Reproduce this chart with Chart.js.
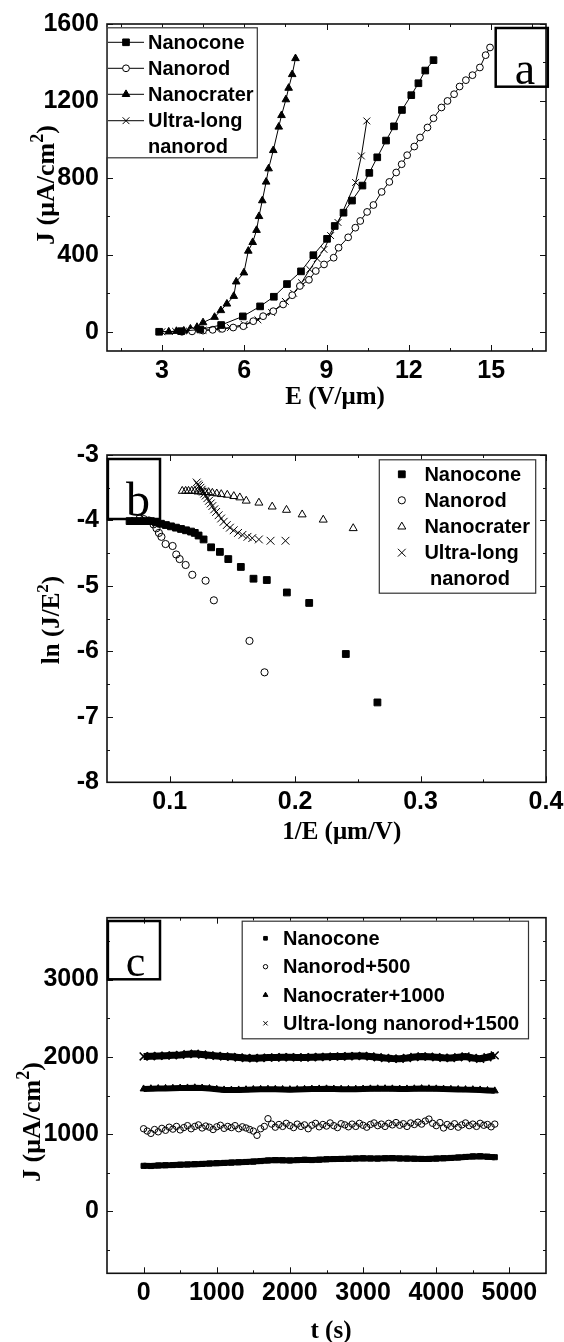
<!DOCTYPE html>
<html>
<head>
<meta charset="utf-8">
<script src="https://cdn.jsdelivr.net/npm/chart.js@4.4.1/dist/chart.umd.min.js"></script>
<style>
html,body{margin:0;padding:0;background:#fff;}
body{width:564px;height:1342px;position:relative;overflow:hidden;}
.panel{position:absolute;left:0;width:564px;}
canvas{display:block;}
</style>
</head>
<body>
<div class="panel" style="top:0;height:415px"><canvas id="ca" width="564" height="415"></canvas></div>
<div class="panel" style="top:415px;height:430px"><canvas id="cb" width="564" height="430"></canvas></div>
<div class="panel" style="top:845px;height:497px"><canvas id="cc" width="564" height="497"></canvas></div>
<script>
// ---------- Panel a : J vs E ----------
const aConeE   = [2.9, 3.7, 4.4, 5.16, 5.95, 6.58, 7.08, 7.56, 8.07, 8.52, 9.02, 9.30, 9.62, 9.93, 10.31, 10.56, 10.85, 11.17, 11.46, 11.75, 12.09, 12.35, 12.60, 12.90];
const aConeJ   = [0, 3, 12, 35, 80, 132, 182, 248, 314, 398, 483, 550, 619, 682, 760, 826, 907, 994, 1068, 1153, 1230, 1292, 1358, 1412];
const aRodE    = [3.73, 4.1, 4.5, 4.85, 5.2, 5.6, 5.97, 6.33, 6.69, 7.06, 7.42, 7.75, 8.03, 8.36, 8.61, 8.91, 9.26, 9.44, 9.79, 10.05, 10.23, 10.48, 10.71, 11.01, 11.29, 11.54, 11.74, 11.94, 12.2, 12.41, 12.68, 12.9, 13.19, 13.41, 13.65, 13.85, 14.08, 14.32, 14.59, 14.8, 14.96];
const aRodJ    = [0, 2, 6, 10, 15, 22, 29, 55, 81, 107, 142, 190, 238, 270, 316, 350, 385, 437, 491, 541, 576, 623, 659, 727, 779, 828, 871, 918, 963, 1010, 1062, 1110, 1166, 1200, 1235, 1275, 1308, 1334, 1374, 1438, 1478];
const aCraterE = [3.25, 3.53, 3.8, 4.04, 4.28, 4.5, 4.92, 5.15, 5.37, 5.62, 5.71, 5.99, 6.15, 6.31, 6.45, 6.54, 6.66, 6.8, 6.89, 7.06, 7.26, 7.36, 7.52, 7.62, 7.75, 7.87];
const aCraterJ = [0, 3, 5, 15, 24, 48, 76, 111, 145, 185, 260, 307, 420, 465, 528, 600, 682, 779, 848, 943, 1065, 1125, 1207, 1267, 1338, 1421];
const aUltraE  = [3.0, 3.5, 4.0, 4.5, 5.0, 5.5, 6.0, 6.5, 7.0, 7.5, 7.8, 8.09, 8.39, 8.66, 8.91, 9.15, 9.42, 10.06, 10.27, 10.47];
const aUltraJ  = [0, 2, 4, 8, 13, 22, 38, 62, 100, 158, 200, 255, 324, 380, 428, 500, 568, 776, 914, 1096];
const aXTicks = [3, 6, 9, 12, 15];
const aXLabels = ['3', '6', '9', '12', '15'];
const aXMinor = [1.5, 4.5, 7.5, 10.5, 13.5, 16.5];
const aYTicks = [0, 400, 800, 1200, 1600];
const aYLabels = ['0', '400', '800', '1200', '1600'];
const aYMinor = [200, 600, 1000, 1400];

// ---------- Panel b : ln(J/E^2) vs 1/E ----------
const bConeX   = [0.068, 0.072, 0.077, 0.081, 0.085, 0.089, 0.093, 0.097, 0.101, 0.105, 0.109, 0.113, 0.117, 0.120, 0.123, 0.127, 0.133, 0.140, 0.1467, 0.1567, 0.1668, 0.1774, 0.1934, 0.2112, 0.2404, 0.2656];
const bConeY   = [-4.01, -4.01, -4.01, -4.01, -4.01, -4.03, -4.05, -4.07, -4.09, -4.11, -4.13, -4.15, -4.17, -4.19, -4.23, -4.29, -4.41, -4.48, -4.59, -4.71, -4.89, -4.91, -5.10, -5.26, -6.04, -6.78];
const bRodX    = [0.076, 0.0794, 0.0834, 0.0871, 0.0894, 0.0914, 0.0934, 0.0967, 0.1023, 0.1052, 0.1079, 0.1127, 0.118, 0.1286, 0.1352, 0.1636, 0.1756];
const bRodY    = [-3.97, -3.98, -4.00, -4.06, -4.12, -4.19, -4.25, -4.36, -4.39, -4.52, -4.59, -4.68, -4.83, -4.92, -5.22, -5.84, -6.32];
const bCraterX = [0.110, 0.1127, 0.115, 0.1175, 0.120, 0.1225, 0.125, 0.128, 0.131, 0.134, 0.1375, 0.1411, 0.1459, 0.1511, 0.1559, 0.161, 0.1711, 0.1817, 0.1931, 0.2056, 0.2224, 0.2463];
const bCraterY = [-3.55, -3.55, -3.55, -3.55, -3.55, -3.56, -3.56, -3.57, -3.57, -3.58, -3.59, -3.60, -3.61, -3.63, -3.65, -3.70, -3.73, -3.79, -3.84, -3.91, -3.99, -4.12];
const bUltraX  = [0.1215, 0.1225, 0.1235, 0.1245, 0.1255, 0.1265, 0.1275, 0.1287, 0.130, 0.1313, 0.1327, 0.134, 0.1355, 0.137, 0.139, 0.141, 0.143, 0.1455, 0.148, 0.151, 0.1545, 0.158, 0.162, 0.1658, 0.1711, 0.1804, 0.1923];
const bUltraY  = [-3.42, -3.45, -3.47, -3.50, -3.53, -3.56, -3.59, -3.62, -3.66, -3.70, -3.74, -3.78, -3.83, -3.87, -3.92, -3.97, -4.02, -4.07, -4.11, -4.15, -4.19, -4.22, -4.25, -4.27, -4.29, -4.31, -4.31];
const bXTicks = [0.1, 0.2, 0.3, 0.4];
const bXLabels = ['0.1', '0.2', '0.3', '0.4'];
const bXMinor = [0.15, 0.25, 0.35];
const bYTicks = [-3, -4, -5, -6, -7, -8];
const bYLabels = ['-3', '-4', '-5', '-6', '-7', '-8'];
const bYMinor = [-3.5, -4.5, -5.5, -6.5, -7.5];

// ---------- Panel c : J vs t (stability) ----------
const cTime = [0, 100, 200, 300, 400, 500, 600, 700, 800, 900, 1000, 1100, 1200, 1300, 1400, 1500, 1600, 1700, 1800, 1900, 2000, 2100, 2200, 2300, 2400, 2500, 2600, 2700, 2800, 2900, 3000, 3100, 3200, 3300, 3400, 3500, 3600, 3700, 3800, 3900, 4000, 4100, 4200, 4300, 4400, 4500, 4600, 4700, 4800];
const cTimeFine = [0, 50, 100, 150, 200, 250, 300, 350, 400, 450, 500, 550, 600, 650, 700, 750, 800, 850, 900, 950, 1000, 1050, 1100, 1150, 1200, 1250, 1300, 1350, 1400, 1450, 1500, 1550, 1600, 1650, 1700, 1750, 1800, 1850, 1900, 1950, 2000, 2050, 2100, 2150, 2200, 2250, 2300, 2350, 2400, 2450, 2500, 2550, 2600, 2650, 2700, 2750, 2800, 2850, 2900, 2950, 3000, 3050, 3100, 3150, 3200, 3250, 3300, 3350, 3400, 3450, 3500, 3550, 3600, 3650, 3700, 3750, 3800, 3850, 3900, 3950, 4000, 4050, 4100, 4150, 4200, 4250, 4300, 4350, 4400, 4450, 4500, 4550, 4600, 4650, 4700, 4750, 4800];
const cConeJ = [590, 588, 595, 598, 600, 605, 608, 612, 615, 620, 625, 628, 632, 636, 640, 645, 652, 660, 665, 662, 660, 664, 668, 665, 670, 675, 678, 680, 682, 685, 688, 686, 684, 688, 690, 686, 684, 682, 680, 680, 684, 688, 692, 698, 705, 712, 715, 708, 702];
const cRodJ = [1070, 1040, 1010, 1060, 1030, 1075, 1050, 1090, 1065, 1100,
               1055, 1085, 1110, 1070, 1100, 1120, 1080, 1105, 1090, 1060,
               1095, 1115, 1075, 1100, 1085, 1110, 1070, 1095, 1080, 1060,
               1040, 985, 1070, 1100, 1200, 1130, 1090, 1125, 1100, 1140,
               1110, 1085, 1130, 1100, 1120, 1070, 1115, 1140, 1095, 1125,
               1105, 1145, 1110, 1085, 1135, 1120, 1095, 1130, 1100, 1140,
               1115, 1090, 1125, 1145, 1110, 1130, 1100, 1140, 1120, 1150,
               1115, 1135, 1100, 1145, 1125, 1155, 1130, 1170, 1195, 1140,
               1110, 1150, 1080, 1125, 1100, 1135, 1090, 1120, 1145, 1110,
               1130, 1100, 1140, 1115, 1125, 1095, 1130];
const cCraterJ = [1585, 1588, 1590, 1592, 1594, 1596, 1598, 1600, 1597, 1590,
                  1580, 1572, 1570, 1572, 1575, 1578, 1580, 1582, 1580, 1578,
                  1576, 1578, 1580, 1583, 1585, 1586, 1584, 1582, 1580, 1582,
                  1584, 1586, 1587, 1588, 1586, 1584, 1585, 1587, 1589, 1588,
                  1586, 1583, 1580, 1578, 1576, 1575, 1572, 1565, 1560];
const cUltraJ = [2005, 2008, 2012, 2015, 2020, 2025, 2035, 2040, 2030, 2020,
                 2012, 2005, 2000, 1992, 1985, 1982, 1985, 1990, 1992, 1995,
                 1995, 1993, 1992, 1995, 1998, 2000, 2003, 2005, 2008, 2010,
                 2012, 2005, 1995, 1985, 1978, 1975, 1985, 1998, 2005, 2002,
                 1995, 1988, 1985, 1995, 2005, 1985, 1975, 1995, 2020];
const cXTicks = [0, 1000, 2000, 3000, 4000, 5000];
const cXLabels = ['0', '1000', '2000', '3000', '4000', '5000'];
const cXMinor = [500, 1500, 2500, 3500, 4500];
const cYTicks = [0, 1000, 2000, 3000];
const cYLabels = ['0', '1000', '2000', '3000'];
const cYMinor = [-500, 500, 1500, 2500, 3500];

// ---------- helpers ----------
const SANS = '"Liberation Sans", Arial, Helvetica, sans-serif';
const SERIF = '"Liberation Serif", "Times New Roman", Times, serif';
const pts = (xs, ys) => xs.map((x, i) => ({x: x, y: ys[i]}));

function makeScale(min, max, ticks, labels, isX, size, pad) {
  return {
    type: 'linear', min: min, max: max,
    position: isX ? 'bottom' : 'left',
    grid: {display: false, drawTicks: false},
    border: {display: false},
    title: {display: false},
    ticks: {
      font: {family: SANS, size: 25, weight: 'bold'},
      color: '#000',
      padding: pad,
      autoSkip: false, maxRotation: 0, minRotation: 0,
      callback: (v, i) => (labels[i] !== undefined ? labels[i] : '')
    },
    afterBuildTicks: (s) => { s.ticks = ticks.map(v => ({value: v})); },
    afterFit: (s) => {
      if (isX) { s.height = size; s.paddingLeft = 0; s.paddingRight = 0; }
      else { s.width = size; s.paddingTop = 0; s.paddingBottom = 0; }
    }
  };
}

const framePlugin = {
  id: 'frame',
  afterDatasetsDraw(chart, args, o) {
    const ctx = chart.ctx, a = chart.chartArea, sx = chart.scales.x, sy = chart.scales.y;
    ctx.save();
    ctx.strokeStyle = '#111';
    ctx.lineWidth = 1;
    ctx.beginPath();
    const mark = (vals, len, isX) => vals.forEach(v => {
      if (isX) {
        const p = Math.round(sx.getPixelForValue(v)) + 0.5;
        ctx.moveTo(p, a.bottom); ctx.lineTo(p, a.bottom - len);
        ctx.moveTo(p, a.top); ctx.lineTo(p, a.top + len);
      } else {
        const p = Math.round(sy.getPixelForValue(v)) + 0.5;
        ctx.moveTo(a.left, p); ctx.lineTo(a.left + len, p);
        ctx.moveTo(a.right, p); ctx.lineTo(a.right - len, p);
      }
    });
    mark(o.xMajor, 6, true); mark(o.xMinor, 3, true);
    mark(o.yMajor, 6, false); mark(o.yMinor, 3, false);
    ctx.stroke();
    ctx.lineWidth = 1.6;
    ctx.strokeStyle = '#111';
    ctx.strokeRect(a.left, a.top, a.right - a.left, a.bottom - a.top);
    ctx.restore();
  }
};

function marker(ctx, m, x, y) {
  ctx.save();
  ctx.fillStyle = m.fill;
  ctx.strokeStyle = '#000';
  ctx.lineWidth = 1;
  Chart.helpers.drawPoint(ctx, {pointStyle: m.style, radius: m.r, borderWidth: 1, rotation: 0}, x, y);
  ctx.restore();
}

// draws a title made of parts, some of which are superscripts, centred at (0,0)
function drawParts(ctx, parts, size) {
  const big = 'bold ' + size + 'px ' + SERIF;
  const small = 'bold ' + Math.round(size * 0.68) + 'px ' + SERIF;
  let total = 0;
  parts.forEach(p => { ctx.font = p.sup ? small : big; p.w = ctx.measureText(p.t).width; total += p.w; });
  let x = -total / 2;
  ctx.textAlign = 'left';
  ctx.textBaseline = 'alphabetic';
  const base = size * 0.34;
  parts.forEach(p => {
    ctx.font = p.sup ? small : big;
    ctx.fillText(p.t, x, p.sup ? base - size * 0.42 : base);
    x += p.w;
  });
}

const overlayPlugin = {
  id: 'overlay',
  afterDraw(chart, args, o) {
    const ctx = chart.ctx, dy = o.offsetY;
    ctx.save();
    // legend
    const L = o.legend;
    ctx.fillStyle = '#fff';
    ctx.fillRect(L.box[0], L.box[1] - dy, L.box[2] - L.box[0], L.box[3] - L.box[1]);
    ctx.strokeStyle = '#333';
    ctx.lineWidth = 1.2;
    ctx.strokeRect(L.box[0] + 0.5, L.box[1] - dy + 0.5, L.box[2] - L.box[0], L.box[3] - L.box[1]);
    L.rows.forEach(r => {
      const y = r.y - dy;
      if (L.line && r.m) {
        ctx.strokeStyle = '#333'; ctx.lineWidth = 1.2;
        ctx.beginPath(); ctx.moveTo(L.line[0], y); ctx.lineTo(L.line[1], y); ctx.stroke();
      }
      if (r.m) marker(ctx, r.m, L.markerX, y);
      ctx.fillStyle = '#000';
      ctx.font = 'bold 20px ' + SANS;
      ctx.textAlign = 'left';
      ctx.textBaseline = 'middle';
      ctx.fillText(r.text, r.tx !== undefined ? r.tx : L.textX, y + 1);
    });
    // panel letter box
    const B = o.tag;
    ctx.strokeStyle = '#000';
    ctx.lineWidth = 2.5;
    ctx.strokeRect(B.box[0], B.box[1] - dy, B.box[2] - B.box[0], B.box[3] - B.box[1]);
    ctx.fillStyle = '#000';
    ctx.font = B.size + 'px ' + SERIF;
    ctx.textAlign = 'center';
    ctx.textBaseline = 'alphabetic';
    ctx.fillText(B.text, B.x, B.y - dy);
    // axis titles
    ctx.save();
    ctx.translate(o.xTitle.x, o.xTitle.y - dy);
    drawParts(ctx, o.xTitle.parts, o.xTitle.size);
    ctx.restore();
    ctx.save();
    ctx.translate(o.yTitle.x, o.yTitle.y - dy);
    ctx.rotate(-Math.PI / 2);
    drawParts(ctx, o.yTitle.parts, o.yTitle.size);
    ctx.restore();
    ctx.restore();
  }
};

function baseOptions(xs, ys, pad, frame, overlay) {
  return {
    responsive: false, animation: false, events: [],
    layout: {padding: pad},
    scales: {x: xs, y: ys},
    plugins: {legend: {display: false}, tooltip: {enabled: false}, frame: frame, overlay: overlay},
    elements: {line: {tension: 0}}
  };
}

const BLACK = '#000', CLEAR = 'rgba(0,0,0,0)';
const J_TITLE = [{t: 'J (\u03bcA/cm'}, {t: '2', sup: true}, {t: ')'}];

// ---------- Chart a ----------
new Chart(document.getElementById('ca'), {
  type: 'scatter',
  data: {datasets: [
    {label: 'Nanocone', data: pts(aConeE, aConeJ), showLine: true, borderColor: BLACK, borderWidth: 1,
     pointStyle: 'rect', pointRadius: 4.7, pointBackgroundColor: BLACK, pointBorderColor: BLACK, pointBorderWidth: 1},
    {label: 'Nanorod', data: pts(aRodE, aRodJ), showLine: true, borderColor: BLACK, borderWidth: 1,
     pointStyle: 'circle', pointRadius: 3.4, pointBackgroundColor: '#fff', pointBorderColor: BLACK, pointBorderWidth: 1},
    {label: 'Nanocrater', data: pts(aCraterE, aCraterJ), showLine: true, borderColor: BLACK, borderWidth: 1,
     pointStyle: 'triangle', pointRadius: 4.4, pointBackgroundColor: BLACK, pointBorderColor: BLACK, pointBorderWidth: 1},
    {label: 'Ultra-long nanorod', data: pts(aUltraE, aUltraJ), showLine: true, borderColor: BLACK, borderWidth: 1,
     pointStyle: 'crossRot', pointRadius: 4.8, pointBackgroundColor: BLACK, pointBorderColor: BLACK, pointBorderWidth: 1}
  ]},
  options: baseOptions(
    makeScale(1, 17, aXTicks, aXLabels, true, 64, 5),
    makeScale(-100, 1600, aYTicks, aYLabels, false, 107, 8),
    {top: 24, right: 18, left: 0, bottom: 0},
    {xMajor: aXTicks, xMinor: aXMinor, yMajor: aYTicks, yMinor: aYMinor},
    {offsetY: 0,
     legend: {box: [106.8, 27.3, 256.8, 157.3], line: [108, 144], markerX: 126, textX: 148,
       rows: [
         {y: 42.3, text: 'Nanocone', m: {style: 'rect', r: 4.7, fill: BLACK}},
         {y: 68.3, text: 'Nanorod', m: {style: 'circle', r: 3.4, fill: '#fff'}},
         {y: 94.3, text: 'Nanocrater', m: {style: 'triangle', r: 4.4, fill: BLACK}},
         {y: 120.7, text: 'Ultra-long', m: {style: 'crossRot', r: 4.8, fill: BLACK}},
         {y: 146.7, text: 'nanorod'}
       ]},
     tag: {box: [495.7, 28, 547.8, 86.7], text: 'a', x: 525, y: 84, size: 46},
     xTitle: {parts: [{t: 'E (V/\u03bcm)'}], size: 25, x: 335, y: 395},
     yTitle: {parts: J_TITLE, size: 26, x: 45, y: 185}}
  ),
  plugins: [framePlugin, overlayPlugin]
});

// ---------- Chart b ----------
new Chart(document.getElementById('cb'), {
  type: 'scatter',
  data: {datasets: [
    {label: 'Nanocone', data: pts(bConeX, bConeY), showLine: false,
     pointStyle: 'rect', pointRadius: 4.8, pointBackgroundColor: BLACK, pointBorderColor: BLACK, pointBorderWidth: 1},
    {label: 'Nanorod', data: pts(bRodX, bRodY), showLine: false,
     pointStyle: 'circle', pointRadius: 3.6, pointBackgroundColor: CLEAR, pointBorderColor: BLACK, pointBorderWidth: 1},
    {label: 'Nanocrater', data: pts(bCraterX, bCraterY), showLine: false,
     pointStyle: 'triangle', pointRadius: 4.6, pointBackgroundColor: CLEAR, pointBorderColor: BLACK, pointBorderWidth: 1},
    {label: 'Ultra-long nanorod', data: pts(bUltraX, bUltraY), showLine: false,
     pointStyle: 'crossRot', pointRadius: 5.5, pointBackgroundColor: CLEAR, pointBorderColor: BLACK, pointBorderWidth: 1}
  ]},
  options: baseOptions(
    makeScale(0.05, 0.4, bXTicks, bXLabels, true, 62.7, 5),
    makeScale(-8, -3, bYTicks, bYLabels, false, 107, 8),
    {top: 40, right: 18, left: 0, bottom: 0},
    {xMajor: bXTicks, xMinor: bXMinor, yMajor: bYTicks, yMinor: bYMinor},
    {offsetY: 415,
     legend: {box: [378.8, 459.3, 535.2, 592.7], markerX: 401.8, textX: 424.4,
       rows: [
         {y: 474.3, text: 'Nanocone', m: {style: 'rect', r: 4.8, fill: BLACK}},
         {y: 500.3, text: 'Nanorod', m: {style: 'circle', r: 3.6, fill: '#fff'}},
         {y: 526.7, text: 'Nanocrater', m: {style: 'triangle', r: 4.6, fill: '#fff'}},
         {y: 552.7, text: 'Ultra-long', m: {style: 'crossRot', r: 5.5, fill: BLACK}},
         {y: 578.3, text: 'nanorod', tx: 430}
       ]},
     tag: {box: [107.9, 459, 160, 519], text: 'b', x: 138, y: 516, size: 48},
     xTitle: {parts: [{t: '1/E (\u03bcm/V)'}], size: 25, x: 341.7, y: 830},
     yTitle: {parts: [{t: 'ln (J/E'}, {t: '2', sup: true}, {t: ')'}], size: 25, x: 50, y: 620}}
  ),
  plugins: [framePlugin, overlayPlugin]
});

// ---------- Chart c ----------
new Chart(document.getElementById('cc'), {
  type: 'scatter',
  data: {datasets: [
    {label: 'Nanocone', data: pts(cTime, cConeJ), showLine: true, borderColor: BLACK, borderWidth: 6,
     pointStyle: 'rect', pointRadius: 3.6, pointBackgroundColor: BLACK, pointBorderColor: BLACK, pointBorderWidth: 1},
    {label: 'Nanorod+500', data: pts(cTimeFine, cRodJ), showLine: false,
     pointStyle: 'circle', pointRadius: 3.2, pointBackgroundColor: CLEAR, pointBorderColor: BLACK, pointBorderWidth: 1},
    {label: 'Nanocrater+1000', data: pts(cTime, cCraterJ), showLine: true, borderColor: BLACK, borderWidth: 6,
     pointStyle: 'triangle', pointRadius: 4, pointBackgroundColor: BLACK, pointBorderColor: BLACK, pointBorderWidth: 1},
    {label: 'Ultra-long nanorod+1500', data: pts(cTime, cUltraJ), showLine: true, borderColor: BLACK, borderWidth: 7,
     pointStyle: 'crossRot', pointRadius: 5.5, pointBackgroundColor: BLACK, pointBorderColor: BLACK, pointBorderWidth: 1.5}
  ]},
  options: baseOptions(
    makeScale(-500, 5500, cXTicks, cXLabels, true, 68.7, 5),
    makeScale(-800, 3800, cYTicks, cYLabels, false, 107, 8),
    {top: 72.7, right: 18, left: 0, bottom: 0},
    {xMajor: cXTicks, xMinor: cXMinor, yMajor: cYTicks, yMinor: cYMinor},
    {offsetY: 845,
     legend: {box: [241.7, 920.7, 528, 1038.3], markerX: 265.5, textX: 283,
       rows: [
         {y: 938.3, text: 'Nanocone', m: {style: 'rect', r: 2.6, fill: BLACK}},
         {y: 966.7, text: 'Nanorod+500', m: {style: 'circle', r: 2.2, fill: '#fff'}},
         {y: 995, text: 'Nanocrater+1000', m: {style: 'triangle', r: 2.8, fill: BLACK}},
         {y: 1023.3, text: 'Ultra-long nanorod+1500', m: {style: 'crossRot', r: 3, fill: BLACK}}
       ]},
     tag: {box: [107.9, 921, 160, 979.3], text: 'c', x: 135.6, y: 976, size: 44},
     xTitle: {parts: [{t: 't (s)'}], size: 25, x: 331, y: 1329},
     yTitle: {parts: J_TITLE, size: 26, x: 31, y: 1122}}
  ),
  plugins: [framePlugin, overlayPlugin]
});
</script>
</body>
</html>
